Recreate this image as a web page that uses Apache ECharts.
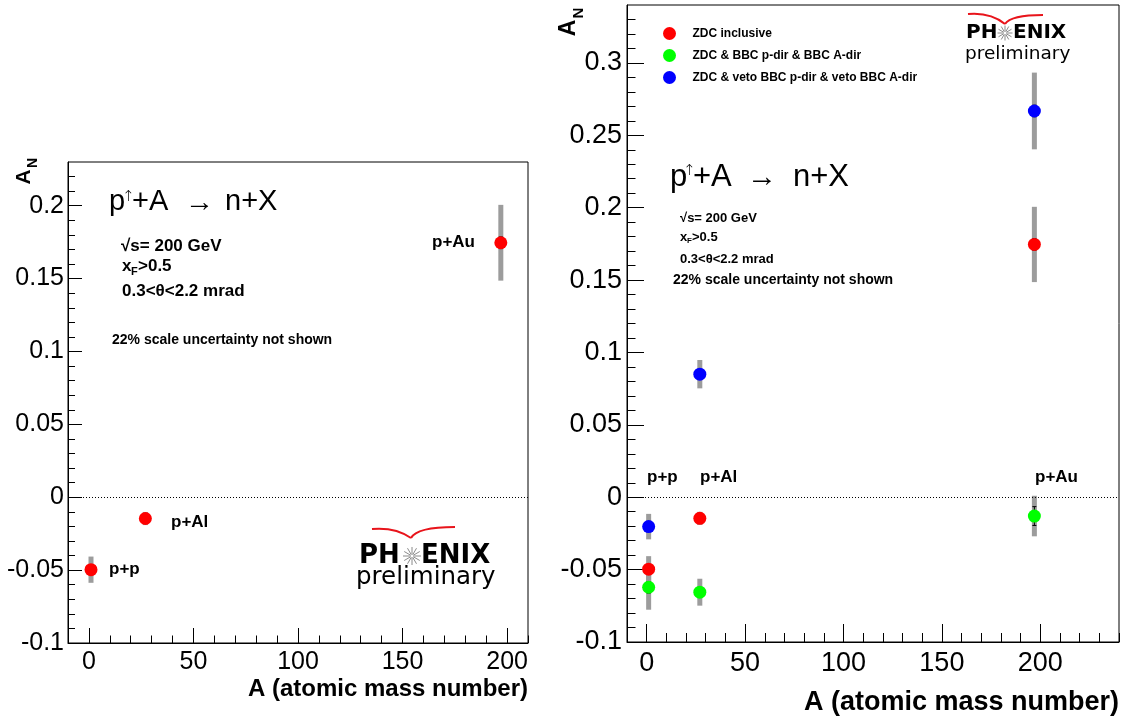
<!DOCTYPE html>
<html><head><meta charset="utf-8">
<script src="https://cdn.jsdelivr.net/npm/echarts@6/dist/echarts.min.js"></script>
<style>html,body{margin:0;padding:0;background:#fff}#c{width:1128px;height:719px}</style>
</head><body><div id="c"></div>
<script>
// ---------------- data ----------------
const massNumbers = [1, 27, 197];
const systemLabels = ['p+p', 'p+Al', 'p+Au'];
const seriesNames = ['ZDC inclusive', 'ZDC & BBC p-dir & BBC A-dir', 'ZDC & veto BBC p-dir & veto BBC A-dir'];
const zdcInclusive    = [-0.0497, -0.0146, 0.1746];
const zdcInclusiveSys = [0.009, 0.0045, 0.026];
const zdcInclusiveStat= [0.003, 0.003, 0.004];
const zdcBbc          = [-0.0622, -0.0656, -0.013];
const zdcBbcSys       = [0.0155, 0.0093, 0.014];
const zdcBbcStat      = [0.004, 0.003, 0.0065];
const zdcVeto         = [-0.0203, 0.085, 0.2668];
const zdcVetoSys      = [0.0088, 0.0098, 0.0265];
const zdcVetoStat     = [0.003, 0.003, 0.004];
const xMajorTicks = [0, 50, 100, 150, 200];
const xMinorTicksLeft  = [-10, 0, 10, 20, 30, 40, 50, 60, 70, 80, 90, 100, 110, 120, 130, 140, 150, 160, 170, 180, 190, 200, 210];
const xMinorTicksRight = [-10, 0, 10, 20, 30, 40, 50, 60, 70, 80, 90, 100, 110, 120, 130, 140, 150, 160, 170, 180, 190, 200, 210, 220, 230, 240];
const yMajorTicksLeft  = [-0.1, -0.05, 0, 0.05, 0.1, 0.15, 0.2];
const yMajorTicksRight = [-0.1, -0.05, 0, 0.05, 0.1, 0.15, 0.2, 0.25, 0.3];
const yMinorTicksLeft  = [-0.1, -0.09, -0.08, -0.07, -0.06, -0.05, -0.04, -0.03, -0.02, -0.01, 0, 0.01, 0.02, 0.03, 0.04, 0.05, 0.06, 0.07, 0.08, 0.09, 0.1, 0.11, 0.12, 0.13, 0.14, 0.15, 0.16, 0.17, 0.18, 0.19, 0.2, 0.21, 0.22];
const yMinorTicksRight = [-0.1, -0.09, -0.08, -0.07, -0.06, -0.05, -0.04, -0.03, -0.02, -0.01, 0, 0.01, 0.02, 0.03, 0.04, 0.05, 0.06, 0.07, 0.08, 0.09, 0.1, 0.11, 0.12, 0.13, 0.14, 0.15, 0.16, 0.17, 0.18, 0.19, 0.2, 0.21, 0.22, 0.23, 0.24, 0.25, 0.26, 0.27, 0.28, 0.29, 0.3, 0.31, 0.32, 0.33];
const xTitle = 'A (atomic mass number)';

// ---------------- helpers ----------------
const FONT = 'Liberation Sans, Arial, Helvetica, sans-serif';
const LOGO_FONT = 'DejaVu Sans, Verdana, sans-serif';
const colors = ['#ff0000', '#00ff00', '#0000ff'];

function triples(vals, errs) { return massNumbers.map((a, i) => [a, vals[i], errs[i]]); }
function pairs(vals) { return massNumbers.map((a, i) => [a, vals[i]]); }

function sysRender(params, api) {
  const x = api.value(0), y = api.value(1), e = api.value(2);
  const t = api.coord([x, y + e]), b = api.coord([x, y - e]);
  return { type: 'rect', shape: { x: t[0] - 2.5, y: t[1], width: 5, height: b[1] - t[1] }, style: { fill: '#9c9c9c' } };
}
function statRender(params, api) {
  const x = api.value(0), y = api.value(1), e = api.value(2);
  const t = api.coord([x, y + e]), b = api.coord([x, y - e]);
  return { type: 'group', children: [
    { type: 'line', shape: { x1: t[0], y1: t[1], x2: b[0], y2: b[1] }, style: { stroke: '#000', lineWidth: 1 } },
    { type: 'line', shape: { x1: t[0] - 2, y1: t[1], x2: t[0] + 2, y2: t[1] }, style: { stroke: '#000', lineWidth: 1 } },
    { type: 'line', shape: { x1: b[0] - 2, y1: b[1], x2: b[0] + 2, y2: b[1] }, style: { stroke: '#000', lineWidth: 1 } }
  ] };
}
function fmtY(v) { return String(Math.round(v * 1000) / 1000); }

function xAxes(grid, min, max, minor, fs, majorLen, minorLen, margin) {
  return [
    { type: 'value', gridIndex: grid, min: min, max: max, position: 'bottom',
      axisLine: { onZero: false, lineStyle: { color: '#000', width: 1 } },
      axisTick: { inside: true, length: majorLen, customValues: xMajorTicks, lineStyle: { color: '#000' } },
      axisLabel: { customValues: xMajorTicks, fontSize: fs, color: '#000', fontFamily: FONT, margin: margin },
      splitLine: { show: false } },
    { type: 'value', gridIndex: grid, min: min, max: max, position: 'bottom',
      axisLine: { show: false, onZero: false },
      axisTick: { inside: true, length: minorLen, customValues: minor, lineStyle: { color: '#000' } },
      axisLabel: { show: false }, splitLine: { show: false } }
  ];
}
function yAxes(grid, min, max, major, minor, fs, majorLen, minorLen, margin) {
  return [
    { type: 'value', gridIndex: grid, min: min, max: max, position: 'left',
      axisLine: { onZero: false, lineStyle: { color: '#000', width: 1 } },
      axisTick: { inside: true, length: majorLen, customValues: major, lineStyle: { color: '#000' } },
      axisLabel: { customValues: major, fontSize: fs, color: '#000', fontFamily: FONT, margin: margin, formatter: fmtY },
      splitLine: { show: false } },
    { type: 'value', gridIndex: grid, min: min, max: max, position: 'left',
      axisLine: { show: false, onZero: false },
      axisTick: { inside: true, length: minorLen, customValues: minor, lineStyle: { color: '#000' } },
      axisLabel: { show: false }, splitLine: { show: false } }
  ];
}
const zeroLine = { silent: true, symbol: 'none', label: { show: false },
  lineStyle: { type: [1, 2], color: '#000', width: 1 }, data: [{ yAxis: 0 }] };

function txt(x, y, text, size, weight, extra) {
  const st = Object.assign({ text: text, fontSize: size, fontWeight: weight || 'normal', fontFamily: FONT, fill: '#000',
    align: 'left', textAlign: 'left', verticalAlign: 'middle', textVerticalAlign: 'middle' }, extra || {});
  return { type: 'text', x: x, y: y, style: st, z: 100 };
}
function star(cx, cy, r) {
  const out = [];
  for (let k = 0; k < 12; k++) {
    const a = k * Math.PI / 6;
    out.push({ type: 'line', shape: { x1: cx + Math.cos(a) * 1.5, y1: cy + Math.sin(a) * 1.5, x2: cx + Math.cos(a) * r, y2: cy + Math.sin(a) * r },
      style: { stroke: '#8a8a8a', lineWidth: 1 }, z: 100 });
  }
  return out;
}
function swoosh(x0, y0, xv, yv, x1, y1) {
  return [
    { type: 'bezierCurve', shape: { x1: x0, y1: y0, x2: xv, y2: yv, cpx1: (x0 + xv) / 2 + 4, cpy1: y0 - 2 }, style: { stroke: '#e8141b', lineWidth: 2, fill: null }, z: 100 },
    { type: 'bezierCurve', shape: { x1: xv, y1: yv, x2: x1, y2: y1, cpx1: xv + 6, cpy1: y1 }, style: { stroke: '#e8141b', lineWidth: 2, fill: null }, z: 100 }
  ];
}
function phenix(x, cy, bigSize, smallSize, starCx, starR, enixX, prelimX, prelimY) {
  return [
    txt(x, cy, 'PH', bigSize, 'bold', { fontFamily: LOGO_FONT }),
    txt(enixX, cy, 'ENIX', bigSize, 'bold', { fontFamily: LOGO_FONT }),
    txt(prelimX, prelimY, 'preliminary', smallSize, 'normal', { fontFamily: LOGO_FONT })
  ].concat(star(starCx, cy, starR));
}
function axisTitleAN(cx, cy, aSize, nSize, nlx, nly) {
  return { type: 'group', x: cx, y: cy, rotation: Math.PI / 2, z: 100, children: [
    { type: 'text', x: 0, y: 0, style: { text: 'A', fontSize: aSize, fontWeight: 'bold', fontFamily: FONT, fill: '#000', align: 'center', textAlign: 'center', verticalAlign: 'middle', textVerticalAlign: 'middle' } },
    { type: 'text', x: nlx, y: nly, style: { text: 'N', fontSize: nSize, fontWeight: 'bold', fontFamily: FONT, fill: '#000', align: 'center', textAlign: 'center', verticalAlign: 'middle', textVerticalAlign: 'middle' } }
  ] };
}
const ARROW_FONT = { fontFamily: 'DejaVu Sans, sans-serif', fontWeight: 200 };

// ---------------- graphics (annotations) ----------------
const graphics = [
  // left panel
  axisTitleAN(24, 177, 21, 14, 14, 9),
  txt(109, 202, 'p', 29),
  txt(122, 197, '\u2191', 15, 'normal', ARROW_FONT),
  txt(132, 202, '+A', 29),
  txt(185, 203, '\u2192', 29),
  txt(225, 202, 'n+X', 29),
  txt(121, 246, '\u221As= 200 GeV', 17, 'bold'),
  txt(122, 266, 'x', 17, 'bold'),
  txt(131, 272, 'F', 11, 'bold'),
  txt(138, 266, '>0.5', 17, 'bold'),
  txt(122, 291, '0.3<\u03B8<2.2 mrad', 17, 'bold'),
  txt(112, 340, '22% scale uncertainty not shown', 14, 'bold'),
  txt(432, 242, systemLabels[2], 17, 'bold'),
  txt(171, 522, systemLabels[1], 17, 'bold'),
  txt(109, 569, systemLabels[0], 17, 'bold'),
  txt(528, 689, xTitle, 24, 'bold', { align: 'right', textAlign: 'right' }),
  // right panel
  axisTitleAN(569, 28, 23, 15, 15, 10),
  txt(670, 177, 'p', 31),
  txt(683, 171, '\u2191', 15, 'normal', ARROW_FONT),
  txt(693, 177, '+A', 31),
  txt(747, 178, '\u2192', 30),
  txt(793, 177, 'n+X', 31),
  txt(680, 218, '\u221As= 200 GeV', 13, 'bold'),
  txt(680, 237, 'x', 13, 'bold'),
  txt(687, 241, 'F', 8, 'bold'),
  txt(692, 237, '>0.5', 13, 'bold'),
  txt(680, 259, '0.3<\u03B8<2.2 mrad', 13, 'bold'),
  txt(673, 280, '22% scale uncertainty not shown', 14, 'bold'),
  txt(647, 477, systemLabels[0], 17, 'bold'),
  txt(700, 477, systemLabels[1], 17, 'bold'),
  txt(1035, 477, systemLabels[2], 17, 'bold'),
  txt(1119, 703, xTitle, 27, 'bold', { align: 'right', textAlign: 'right' })
]
  .concat(phenix(359, 556, 26, 24.5, 412, 9, 421, 356, 578))
  .concat(swoosh(372, 529, 411, 538, 455, 527))
  .concat(phenix(966, 33, 20, 18.5, 1005, 7.5, 1013, 965, 54))
  .concat(swoosh(968, 14, 1005, 24, 1043, 15));

// ---------------- option ----------------
const markerStyle = c => ({ color: c, opacity: 1 });
const option = {
  animation: false,
  backgroundColor: '#fff',
  grid: [
    { left: 68, top: 162, width: 460, height: 481, show: true, borderColor: '#000', borderWidth: 1, backgroundColor: 'transparent' },
    { left: 627, top: 5, width: 492, height: 637, show: true, borderColor: '#000', borderWidth: 1, backgroundColor: 'transparent' }
  ],
  xAxis: [].concat(
    xAxes(0, -10, 210, xMinorTicksLeft, 25, 15, 7.5, 7),
    xAxes(1, -10, 240, xMinorTicksRight, 27, 18, 9, 8)
  ),
  yAxis: [].concat(
    yAxes(0, -0.1, 0.23, yMajorTicksLeft, yMinorTicksLeft, 25, 14, 7, 4),
    yAxes(1, -0.1, 0.34, yMajorTicksRight, yMinorTicksRight, 27, 17, 8.5, 5)
  ),
  legend: {
    data: seriesNames, orient: 'vertical', left: 658, top: 22, icon: 'circle',
    itemWidth: 36, itemHeight: 13, itemGap: 9,
    itemStyle: { opacity: 1 },
    textStyle: { fontSize: 12, fontWeight: 'bold', fontFamily: FONT, color: '#000' }
  },
  graphic: graphics,
  series: [
    // left panel
    { type: 'custom', name: 'left sys', xAxisIndex: 0, yAxisIndex: 0, renderItem: sysRender, data: triples(zdcInclusive, zdcInclusiveSys), z: 2, silent: true },
    { type: 'custom', name: 'left stat', xAxisIndex: 0, yAxisIndex: 0, renderItem: statRender, data: triples(zdcInclusive, zdcInclusiveStat), z: 3, silent: true },
    { type: 'scatter', name: 'left ZDC', xAxisIndex: 0, yAxisIndex: 0, symbol: 'circle', symbolSize: 13,
      itemStyle: markerStyle(colors[0]), data: pairs(zdcInclusive), z: 5, markLine: zeroLine },
    // right panel systematic bars
    { type: 'custom', name: 'sys0', xAxisIndex: 2, yAxisIndex: 2, renderItem: sysRender, data: triples(zdcInclusive, zdcInclusiveSys), z: 2, silent: true },
    { type: 'custom', name: 'sys1', xAxisIndex: 2, yAxisIndex: 2, renderItem: sysRender, data: triples(zdcBbc, zdcBbcSys), z: 2, silent: true },
    { type: 'custom', name: 'sys2', xAxisIndex: 2, yAxisIndex: 2, renderItem: sysRender, data: triples(zdcVeto, zdcVetoSys), z: 2, silent: true },
    { type: 'custom', name: 'stat0', xAxisIndex: 2, yAxisIndex: 2, renderItem: statRender, data: triples(zdcInclusive, zdcInclusiveStat), z: 3, silent: true },
    { type: 'custom', name: 'stat1', xAxisIndex: 2, yAxisIndex: 2, renderItem: statRender, data: triples(zdcBbc, zdcBbcStat), z: 3, silent: true },
    { type: 'custom', name: 'stat2', xAxisIndex: 2, yAxisIndex: 2, renderItem: statRender, data: triples(zdcVeto, zdcVetoStat), z: 3, silent: true },
    { type: 'scatter', name: seriesNames[0], xAxisIndex: 2, yAxisIndex: 2, symbol: 'circle', symbolSize: 13,
      itemStyle: markerStyle(colors[0]), data: pairs(zdcInclusive), z: 5, markLine: zeroLine },
    { type: 'scatter', name: seriesNames[1], xAxisIndex: 2, yAxisIndex: 2, symbol: 'circle', symbolSize: 13,
      itemStyle: markerStyle(colors[1]), data: pairs(zdcBbc), z: 5 },
    { type: 'scatter', name: seriesNames[2], xAxisIndex: 2, yAxisIndex: 2, symbol: 'circle', symbolSize: 13,
      itemStyle: markerStyle(colors[2]), data: pairs(zdcVeto), z: 5 }
  ]
};
const chart = echarts.init(document.getElementById('c'), null, { renderer: 'canvas' });
chart.setOption(option);
</script>
</body></html>
